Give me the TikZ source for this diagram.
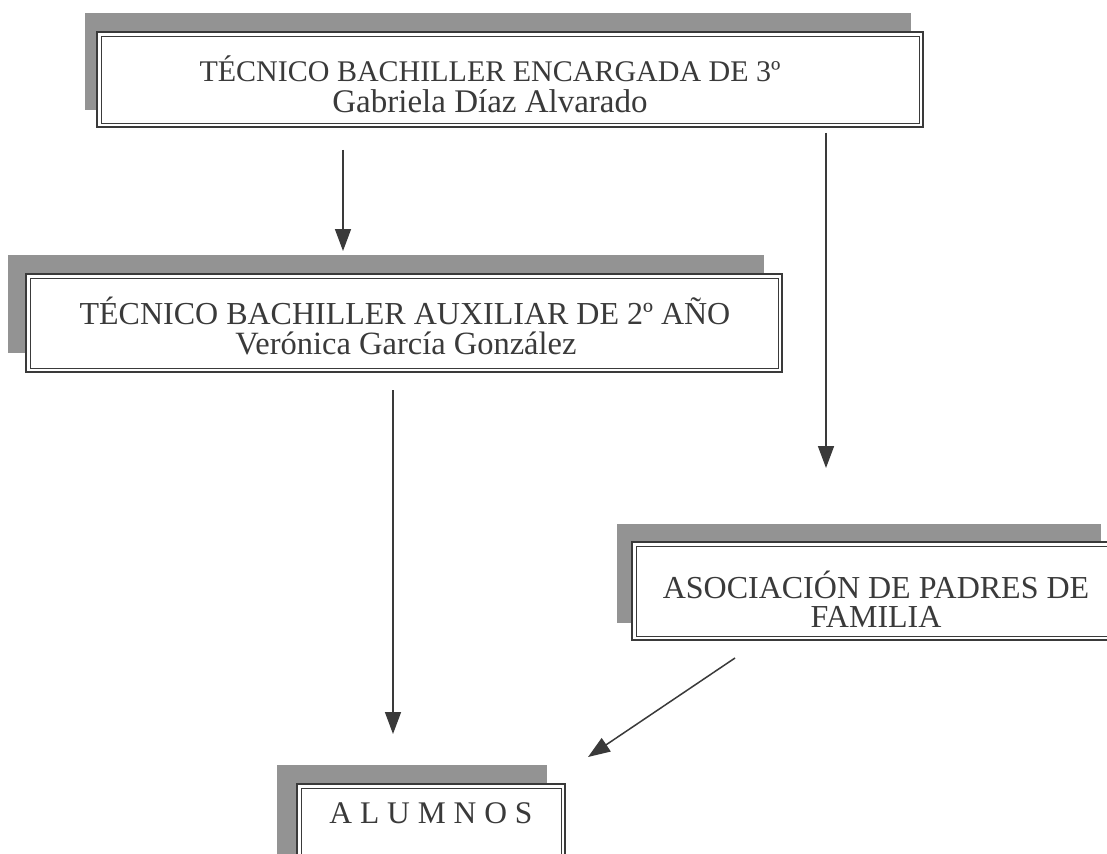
\documentclass[tikz,border=0pt]{standalone}
\usepackage{fontspec}
\setmainfont{Liberation Serif}
\usetikzlibrary{arrows.meta}
\definecolor{ink}{HTML}{3A3A3A}
\definecolor{shade}{HTML}{939393}
\begin{document}
\begin{tikzpicture}[x=1pt,y=-1pt,
  frame/.style={draw=ink, line width=2pt, fill=white, inner sep=0pt},
  innerline/.style={draw=ink, line width=0.9pt},
  shadowbox/.style={fill=shade},
  txt/.style={text=ink, inner sep=0pt, anchor=base, font=\fontsize{30}{36}\selectfont},
  arr/.style={draw=ink, line width=1.5pt, -{Triangle[length=22pt,width=16pt]}}]
\useasboundingbox (0,0) rectangle (1107,853);
\fill[white] (0,0) rectangle (1107,853);

% box 1
\fill[shadowbox] (85,13) rectangle (911,110);
\node[frame, minimum width=826pt, minimum height=95pt] (b1) at (510,79.5) {};
\draw[innerline] ([shift={(5,5)}]b1.north west) rectangle ([shift={(-5,-5)}]b1.south east);
\node[txt] (t1a) at (490,82) {TÉCNICO BACHILLER ENCARGADA DE 3º};
\node[txt, font=\fontsize{33}{40}\selectfont] (t1b) at (490,113) {Gabriela Díaz Alvarado};

% box 2
\fill[shadowbox] (8,255) rectangle (764,353);
\node[frame, minimum width=756pt, minimum height=98pt] (b2) at (404,323) {};
\draw[innerline] ([shift={(5,5)}]b2.north west) rectangle ([shift={(-5,-5)}]b2.south east);
\node[txt, font=\fontsize{32}{38}\selectfont] (t2a) at (405,324) {TÉCNICO BACHILLER AUXILIAR DE 2º AÑO};
\node[txt, font=\fontsize{32.5}{38}\selectfont] (t2b) at (406,354) {Verónica García González};

% box 3
\fill[shadowbox] (617,524) rectangle (1101,623);
\node[frame, minimum width=488pt, minimum height=98pt] (b3) at (876,591) {};
\draw[innerline] ([shift={(5,5)}]b3.north west) rectangle ([shift={(-5,-5)}]b3.south east);
\node[txt, font=\fontsize{32}{38}\selectfont] (t3a) at (876,598) {ASOCIACIÓN DE PADRES DE};
\node[txt, font=\fontsize{32}{38}\selectfont] (t3b) at (876,627) {FAMILIA};

% box 4
\fill[shadowbox] (277,765) rectangle (547,861);
\node[frame, minimum width=268pt, minimum height=96pt] (b4) at (431,832) {};
\draw[innerline] ([shift={(5,5)}]b4.north west) rectangle ([shift={(-5,-5)}]b4.south east);
\node[txt, font=\fontsize{31.5}{38}\selectfont] (t4) at (431,823) {A L U M N O S};

% arrows
\coordinate (a1s) at (343,150);
\coordinate (a1e) at (343,251);
\coordinate (a2s) at (826,133);
\coordinate (a2e) at (826,468);
\coordinate (a3s) at (393,390);
\coordinate (a3e) at (393,734);
\coordinate (a4s) at (735,658);
\coordinate (a4e) at (588,757);
\draw[arr] (a1s) -- (a1e);
\draw[arr] (a2s) -- (a2e);
\draw[arr] (a3s) -- (a3e);
\draw[arr] (a4s) -- (a4e);
\end{tikzpicture}
\end{document}
